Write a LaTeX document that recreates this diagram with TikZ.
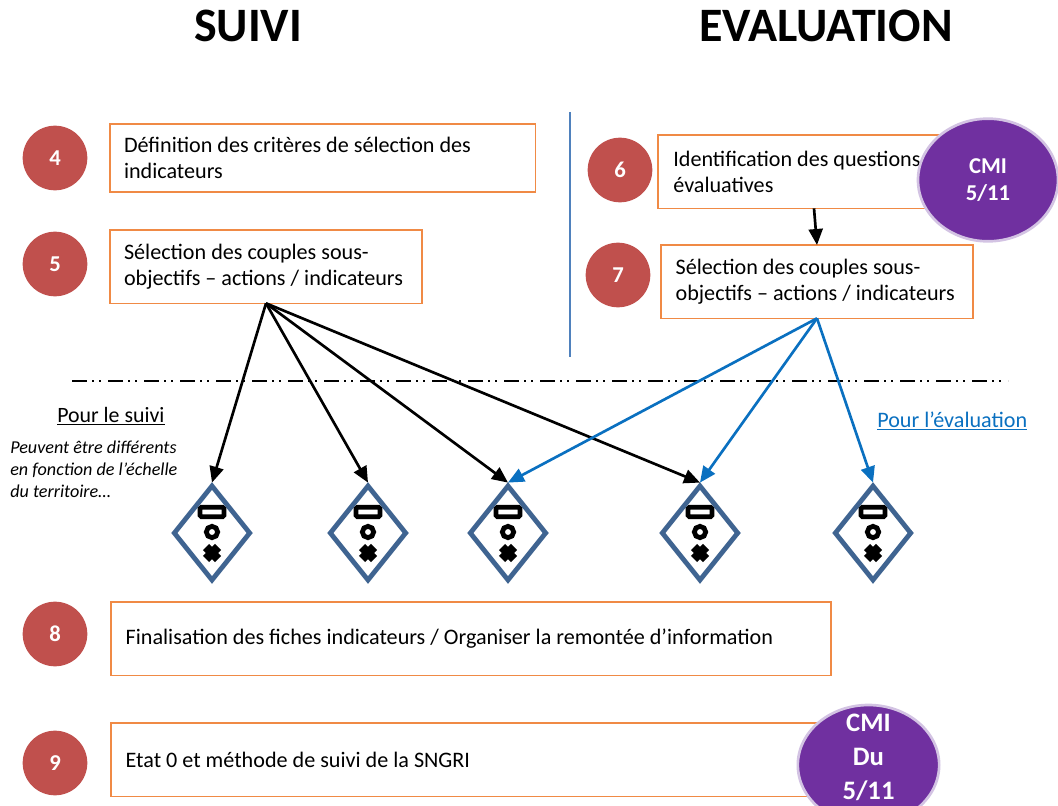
\documentclass[tikz,border=0pt]{standalone}
\usepackage{fontspec}
\setmainfont{Carlito}
\usetikzlibrary{positioning,shapes.geometric,arrows.meta}
\definecolor{boxorange}{HTML}{F08A45}
\definecolor{stepred}{HTML}{C0504D}
\definecolor{cmipurple}{HTML}{7030A0}
\definecolor{cmiborder}{HTML}{D3C3E3}
\definecolor{diamondblue}{HTML}{3F6491}
\definecolor{sepblue}{HTML}{4F81BD}
\definecolor{evalblue}{HTML}{0A70C0}
\tikzset{
	x=0.75pt,y=-0.75pt,
	stepbox/.style={draw=boxorange,line width=0.95pt,fill=white,anchor=north west,outer sep=0pt,inner xsep=10.5pt,inner ysep=0pt,align=flush left,font=\fontsize{16.6}{19.8}\selectfont},
	stepnum/.style={circle,fill=stepred,minimum size=48.5pt,inner sep=0pt,text=white,font=\fontsize{17}{18}\selectfont\bfseries},
	cmi/.style={ellipse,draw=cmiborder,line width=2pt,fill=cmipurple,inner sep=0pt,text=white,align=center,font=\fontsize{17}{20}\selectfont\bfseries},
	indic/.style={diamond,draw=diamondblue,line width=3.6pt,aspect=0.81,minimum width=58pt,minimum height=72pt,inner sep=0pt,outer sep=1.8pt},
	blackarrow/.style={black,line width=2pt,-{Triangle[length=12pt,width=10.5pt]}},
	bluearrow/.style={evalblue,line width=2pt,-{Triangle[length=12pt,width=10.5pt]}},
}
\begin{document}
\begin{tikzpicture}
		\useasboundingbox (0,0) rectangle (1058,806);
		
		\node[font=\fontsize{36}{40}\selectfont\bfseries] (suivi) at (248,26){SUIVI};
		\node[font=\fontsize{36}{40}\selectfont\bfseries] (evaluation) at (826,26){EVALUATION};
		
		\coordinate (septop) at (570,112);
		\coordinate (sepbottom) at (570,357);
		\draw[sepblue,line width=1.1pt] (septop) -- (sepbottom);
		\coordinate (dashleft) at (72,381);
		\coordinate (dashright) at (1008,381);
		\draw[black,line width=1pt,dash pattern=on 11pt off 4pt on 1.5pt off 4pt on 1.5pt off 5pt] (dashleft) -- (dashright);
		
		% left column
		\node[stepnum] (n4) at (55,158){4};
		\node[stepnum] (n5) at (55,264){5};
		\node[stepbox,text width=298pt,minimum height=51pt] (box4) at (110,124){Définition des critères de sélection des\\indicateurs};
		\node[stepbox,text width=213pt,minimum height=55pt] (box5) at (110,230){Sélection des couples sous-\\objectifs – actions / indicateurs};
		
		% right column
		\node[stepnum] (n6) at (620,170){6};
		\node[stepnum] (n7) at (618,275){7};
		\node[stepbox,text width=211pt,minimum height=55pt,inner xsep=11.5pt] (box6) at (658,135){Identification des questions\\évaluatives};
		\node[stepbox,text width=212pt,minimum height=55pt,inner xsep=11pt] (box7) at (661,245){Sélection des couples sous-\\objectifs – actions / indicateurs};
		\node[cmi,minimum width=105pt,minimum height=92pt] (cmia) at (988,180){CMI\\5/11};
		
		\draw[blackarrow] (box6.south) -- (box7.north);
		
		% indicators
		\foreach \name/\xpos in {d1/212,d2/368,d3/508,d4/700,d5/873}{
			\node[indic] (\name) at (\xpos,533){};
			\node[draw=black,line width=3.6pt,rounded corners=1pt,minimum width=18pt,minimum height=7pt,inner sep=0pt] (\name bar) at (\xpos,512){};
			\node[circle,draw=black,line width=3.6pt,minimum size=8.5pt,inner sep=0pt] (\name dot) at (\xpos,532){};
			\node[inner sep=0pt,minimum size=0pt] (\name x) at (\xpos,553){};
			\draw[black,line width=6.5pt] ([shift={(-4.5pt,-4.5pt)}]\name x.center) -- ([shift={(4.5pt,4.5pt)}]\name x.center);
			\draw[black,line width=6.5pt] ([shift={(-4.5pt,4.5pt)}]\name x.center) -- ([shift={(4.5pt,-4.5pt)}]\name x.center);
		}
		
		\foreach \name in {d1,d2,d3,d4}{
			\draw[blackarrow] (box5.south) -- (\name.north);
		}
		\foreach \name in {d3,d4,d5}{
			\draw[bluearrow] (box7.south) -- (\name.north);
		}
		
		\node[anchor=west,inner sep=0pt,font=\fontsize{16.4}{19}\selectfont] (pour1) at (57,416){\underline{Pour le suivi}};
		\node[anchor=north west,inner sep=0pt,align=flush left,font=\fontsize{13.6}{16.5}\selectfont\itshape] (note) at (10,441){Peuvent être différents\\en fonction de l’échelle\\du territoire…};
		\node[anchor=west,inner sep=0pt,text=evalblue,font=\fontsize{16.6}{19}\selectfont] (pour2) at (877,421){\underline{Pour l’évaluation}};
		
		% bottom steps
		\node[stepnum] (n8) at (55,634){8};
		\node[stepnum] (n9) at (55,763){9};
		\node[stepbox,text width=518pt,minimum height=55pt,inner xsep=11pt] (box8) at (111,602){Finalisation des fiches indicateurs / Organiser la remontée d’information};
		\node[stepbox,text width=514pt,minimum height=55pt,inner xsep=11pt] (box9) at (111,723){Etat 0 et méthode de suivi de la SNGRI};
		\node[cmi,minimum width=106pt,minimum height=90pt,inner ysep=-16pt,font=\fontsize{20}{25.5}\selectfont\bfseries,text depth=12pt] (cmib) at (868.5,765){CMI\\Du\\5/11};
		
\end{tikzpicture}
\end{document}
